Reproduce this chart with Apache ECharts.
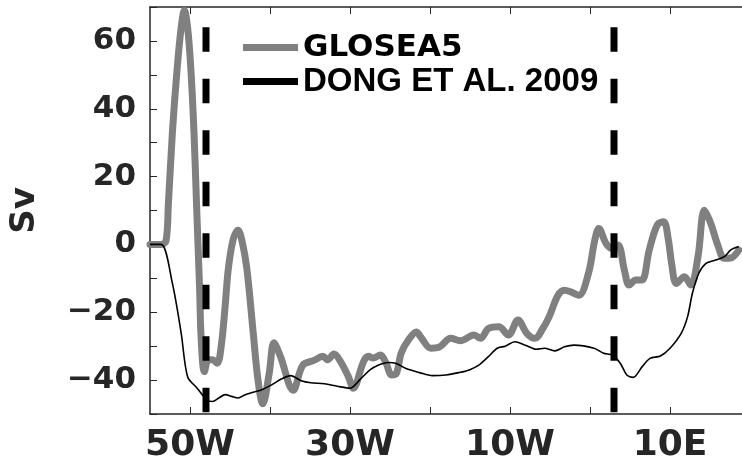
<!DOCTYPE html>
<html>
<head>
<meta charset="utf-8">
<script src="https://cdn.jsdelivr.net/npm/echarts@6/dist/echarts.min.js"></script>
<style>
html,body{margin:0;padding:0;background:#fff;}
#chart{width:742px;height:466px;}
</style>
</head>
<body>
<div id="chart"></div>
<script>
// ---- data ----
const seriesNames = ['GLOSEA5', 'DONG ET AL. 2009'];

const lonGlosea = [-55, -53.6, -53.0, -52.7, -52.2, -51.6, -51.1, -50.7, -50.3, -49.9, -49.5, -49.2, -49.0, -48.8, -48.6, -48.2,
  -47.7, -47.2, -46.6, -46.1, -45.6, -45.2, -44.6, -44.0, -43.5, -42.9, -42.1, -41.5, -40.9,
  -40.1, -39.5, -38.7, -37.1, -35.9, -34.5, -33.4, -32.8, -32.0, -31.2, -30.2, -29.6,
  -28.3, -27.7, -27.1, -26.2, -25.5, -24.8, -24.2, -23.6, -22.7, -21.7, -21.1, -19.9, -18.8,
  -17.4, -16.2, -14.5, -13.7, -12.7, -11.4, -10.2, -9.0, -7.9, -6.9, -5.9, -5.1, -4.0, -3.2,
  -2.4, -1.4, -0.2, 0.6, 1.1, 2.0, 2.7, 3.5, 4.3, 4.9, 5.7, 6.5, 7.4, 8.4, 9.2, 9.8, 10.2,
  10.8, 11.8, 12.6, 13.5, 14.3, 15.1, 15.9, 16.8, 17.6, 18.6];
const valGlosea = [0, 0, 1, 12, 33, 52, 64, 69, 64, 52, 33, 13, 0, -13, -28, -37.5,
  -34, -34, -35, -30, -18, -7, 1.5, 4.2, 1, -7, -26, -40, -47,
  -38, -29, -33, -43, -35.6, -34.2, -33, -34, -32.3, -34.5, -39, -42.4,
  -34.5, -33, -33.5, -32.6, -35, -38.5, -38, -32, -28.2, -25.8, -27.5, -30.6, -30.2,
  -27.7, -28.4, -26.7, -27.7, -24.8, -24.3, -26.7, -22.3, -26.2, -27.7, -24.8, -21.3, -15, -13.5,
  -14, -15, -8.6, 1.3, 4.7, 0.3, -1.2, -0.2, -7.6, -12, -10.5, -10.5, -1.7, 5.7, 6.7, 1.3, -5.6,
  -11.5, -9.5, -12, -3.6, 10.1, 6.2, 0.3, -4.1, -4, -1.7];

const lonDong = [-55, -53.6, -52.2, -51.1, -50.3, -49.1, -47.9, -47.2, -46.4, -45.6, -44.8, -44.0, -43.1,
  -42.1, -41.1, -39.8, -38.6, -37.4, -36.1, -34.9, -33.2, -31.6, -30.0, -28.7, -27.5, -26.5,
  -25.2, -24.2, -23.0, -21.3, -19.7, -18.0, -16.4, -15.1, -13.9, -12.7, -11.6, -10.6, -9.4,
  -8.1, -6.7, -5.7, -4.4, -3.2, -2.0, 0.5, 1.7, 2.8, 3.8, 4.6, 5.4, 6.5, 7.5, 8.8, 10.0,
  11.4, 12.2, 12.8, 13.6, 14.5, 15.7, 16.8, 17.6, 18.6];
const valDong = [0, 0, -11.5, -26.2, -39, -42.4, -45.8, -46.3, -45.3, -44.3, -44.8, -45.3, -44.3,
  -43.6, -42.9, -41.4, -39.7, -38.7, -40.2, -40.8, -41.1, -41.8, -42.4, -39.7, -37, -35.6,
  -34.8, -35.1, -36.6, -37.8, -38.7, -38.5, -37.8, -37, -35.6, -33.1, -30.6, -30, -28.7,
  -29.7, -30.9, -30.6, -31.4, -30.2, -29.7, -30.6, -32.1, -32.6, -35.1, -38.5, -39.2, -36.1, -33.6, -32.9, -30.6,
  -26.2, -21.3, -14.4, -8.5, -5.6, -4.6, -3.6, -1.6, -0.6];

const dashLons = [-48, 3];
const dashRange = [64, -50];

const xTicks = [-50, -40, -30, -20, -10, 0, 10];
const xLabels = [-50, -30, -10, 10];

// ---- build ----
const zip = (a, b) => a.map((v, i) => [v, b[i]]);
const lonFmt = v => v < 0 ? (-v) + 'W' : (v > 0 ? v + 'E' : '0');
const yFmt = v => (v % 20 === 0) ? (v < 0 ? '\u2212' + (-v) : String(v)) : '';

const axisColor = '#262626';
const labelFont = {fontFamily: 'DejaVu Sans', fontWeight: 'bold', color: axisColor};

const dashSeries = dashLons.map(l => ({
  type: 'line', name: 'dash' + l, data: [[l, dashRange[0]], [l, dashRange[1]]],
  symbol: 'none', silent: true, z: 5,
  lineStyle: {color: '#000', width: 7, type: [24.5, 27], cap: 'butt'}
}));

const chart = echarts.init(document.getElementById('chart'), null, {renderer: 'canvas'});
chart.setOption({
  animation: false,
  backgroundColor: '#fff',
  grid: {left: 144, top: 7, right: 0, bottom: 52, containLabel: false},
  legend: {
    data: seriesNames,
    orient: 'vertical', left: 238, top: 27, itemGap: 2,
    itemWidth: 55, itemHeight: 7, icon: 'rect',
    formatter: n => n === 'GLOSEA5' ? '{a|' + n + '}' : '{b|' + n + '}',
    textStyle: {
      rich: {
        a: {fontFamily: 'DejaVu Sans', fontWeight: 'bold', fontSize: 31, color: '#000', lineHeight: 36},
        b: {fontFamily: 'Liberation Sans', fontWeight: 'bold', fontSize: 33, color: '#000', lineHeight: 36}
      }
    }
  },
  xAxis: [{
    type: 'value', min: -55, max: 19, position: 'bottom',
    axisLine: {show: true, onZero: false, lineStyle: {color: axisColor, width: 1.5}},
    axisTick: {show: true, inside: true, length: 7, customValues: xTicks, lineStyle: {color: axisColor, width: 1}},
    axisLabel: Object.assign({fontSize: 36, margin: 14, customValues: xLabels, formatter: lonFmt}, labelFont),
    splitLine: {show: false}
  }, {
    type: 'value', min: -55, max: 19, position: 'top',
    axisLine: {show: true, onZero: false, lineStyle: {color: axisColor, width: 1.5}},
    axisTick: {show: true, inside: true, length: 7, customValues: xTicks, lineStyle: {color: axisColor, width: 1}},
    axisLabel: {show: false},
    splitLine: {show: false}
  }],
  yAxis: {
    type: 'value', min: -50, max: 70, interval: 10,
    name: 'Sv', nameLocation: 'middle', nameGap: 108, nameRotate: 90,
    nameTextStyle: {fontFamily: 'DejaVu Sans', fontWeight: 'bold', fontSize: 34, color: axisColor},
    axisLine: {show: true, onZero: false, lineStyle: {color: axisColor, width: 1.5}},
    axisTick: {show: true, inside: true, length: 7, lineStyle: {color: axisColor, width: 1}},
    axisLabel: Object.assign({fontSize: 31, margin: 14, formatter: yFmt}, labelFont),
    splitLine: {show: false}
  },
  series: [{
    type: 'line', name: seriesNames[0], data: zip(lonGlosea, valGlosea),
    symbol: 'none', smooth: 0.35, z: 2,
    itemStyle: {color: '#808080'},
    lineStyle: {color: '#808080', width: 7, cap: 'round', join: 'round'}
  }, {
    type: 'line', name: seriesNames[1], data: zip(lonDong, valDong),
    symbol: 'none', smooth: 0.3, z: 3,
    itemStyle: {color: '#000'},
    lineStyle: {color: '#000', width: 1.6}
  }].concat(dashSeries)
});
</script>
</body>
</html>
